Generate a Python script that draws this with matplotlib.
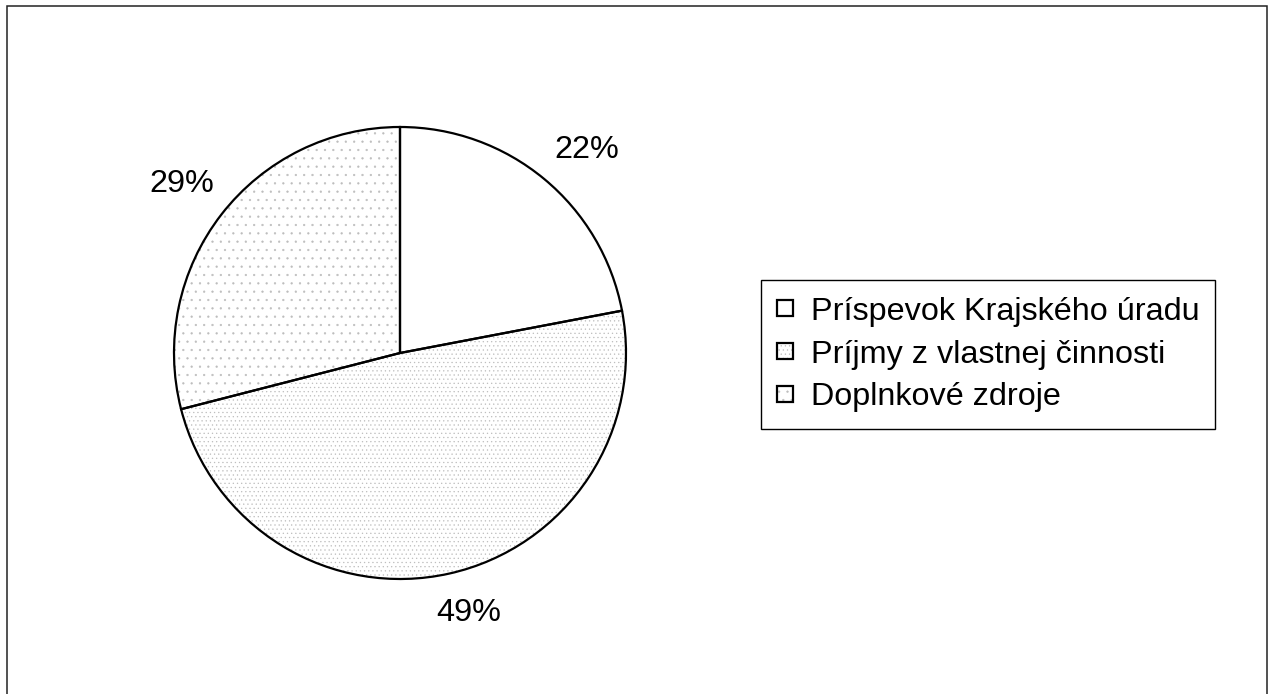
import matplotlib.pyplot as plt
from matplotlib.patches import Rectangle
from matplotlib.legend_handler import HandlerTuple

plt.rcParams['font.family'] = ['Liberation Sans', 'DejaVu Sans']
plt.rcParams['hatch.linewidth'] = 0.4

# data
labels = ["Príspevok Krajského úradu", "Príjmy z vlastnej činnosti", "Doplnkové zdroje"]
shares = [22, 49, 29]
hatches = ["", "....", ".."]

fig = plt.figure(figsize=(12.7, 6.94), dpi=100)

# outer chart border (bottom edge runs off the image)
fig.add_artist(Rectangle((7 / 1270, -0.05), 1260 / 1270, 0.05 + 688 / 694,
                         transform=fig.transFigure, fill=False,
                         edgecolor="#222222", linewidth=1.1))

# pie centred at (400, 353) px, radius ~226 px
ax = fig.add_axes([174 / 1270, 115 / 694, 452 / 1270, 452 / 694])

# hatched fill (hatch takes the edge colour, so draw outline separately)
fills, _ = ax.pie(shares, startangle=90, counterclock=False,
                  colors=["white"] * 3,
                  wedgeprops=dict(edgecolor="#bdbdbd", linewidth=0))
for w, h in zip(fills, hatches):
    w.set_hatch(h)

outlines, _, pcts = ax.pie(shares, startangle=90, counterclock=False,
                           autopct="%d%%", pctdistance=1.22,
                           wedgeprops=dict(fill=False, edgecolor="black", linewidth=1.6),
                           textprops=dict(fontsize=23.3, color="black"))
# small nudges to match label placement
pcts[0].set_position((pcts[0].get_position()[0] + 0.05, pcts[0].get_position()[1] - 0.04))
pcts[1].set_position((pcts[1].get_position()[0] + 0.04, pcts[1].get_position()[1] + 0.04))
ax.set_xlim(-1, 1)
ax.set_ylim(-1, 1)

leg = fig.legend([(f, o) for f, o in zip(fills, outlines)], labels,
                 handler_map={tuple: HandlerTuple(ndivide=1)},
                 loc="center left", bbox_to_anchor=(761 / 1270, 339.5 / 694),
                 fontsize=23.3, frameon=True, fancybox=False, framealpha=1,
                 edgecolor="black", handlelength=0.48, handleheight=0.36,
                 handletextpad=0.55, labelspacing=0.4, borderpad=0.5,
                 borderaxespad=0)
leg.get_frame().set_linewidth(1.0)

fig.savefig("out.png", dpi=100, facecolor="white")
